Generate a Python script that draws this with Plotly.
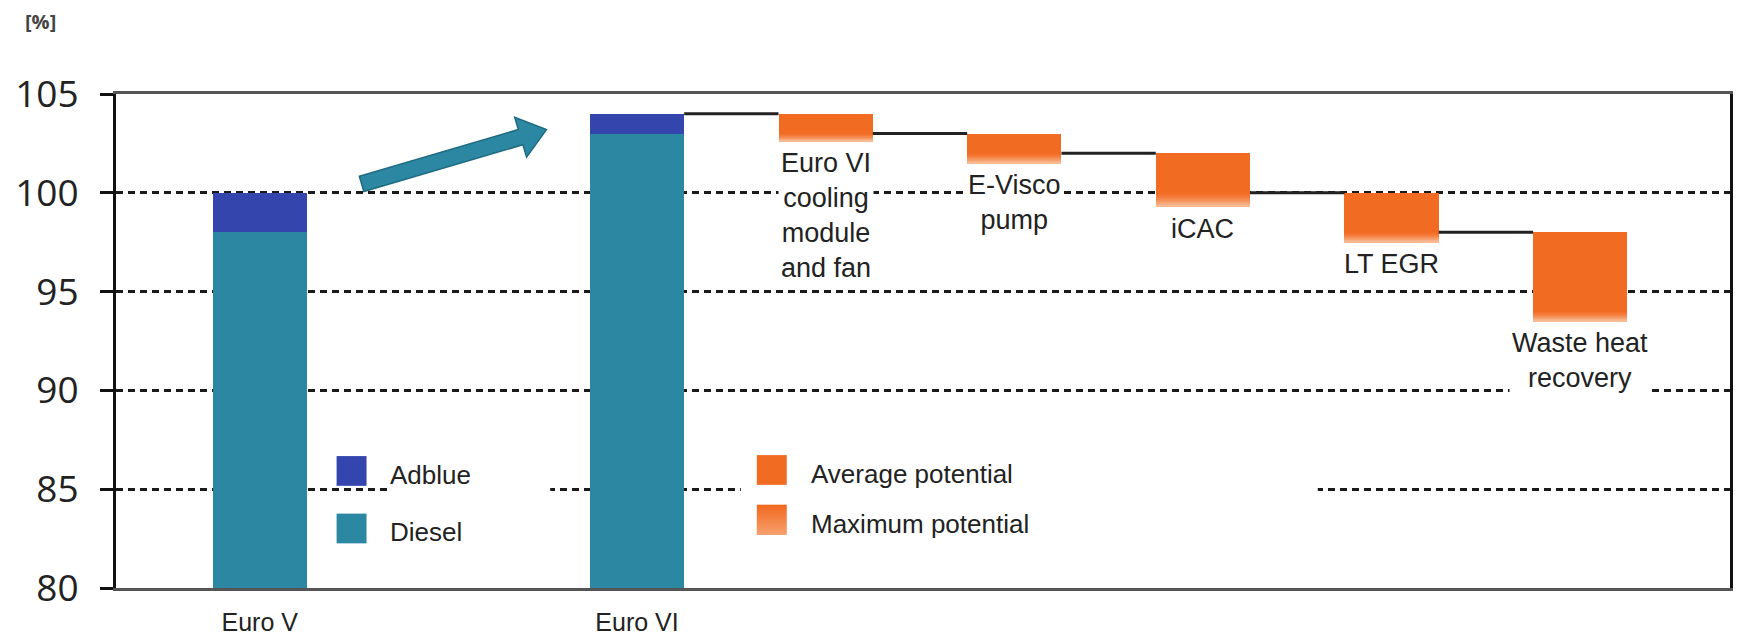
import plotly.graph_objects as go

# ---- data -------------------------------------------------------------
stages = ["Euro V", "Euro VI"]
stage_pos = [0, 2]
diesel = [98, 103]
adblue = [2, 1]

measures = ["Euro VI<br>cooling<br>module<br>and fan", "E-Visco<br>pump", "iCAC",
            "LT EGR", "Waste heat<br>recovery"]
measure_pos = [3, 4, 5, 6, 7]
avg_potential = [1.0, 1.0, 2.0, 2.0, 4.0]
max_potential = [1.4, 1.5, 2.7, 2.5, 4.5]

y_ticks = [80, 85, 90, 95, 100, 105]

# ---- styling / layout constants --------------------------------------
W, H = 1739, 642
ML, MR, MT, MB = 116, 6, 94, 50
X_RANGE = [-0.762, 7.794]
Y_RANGE = [80, 105]
BAR_W = 0.5

TEAL = "#2C88A2"
BLUE = "#3446AE"
ORANGE = "#F26B22"
ORANGE_LIGHT = "#F9BE98"
TEXT = "#222222"
NARROW = "Liberation Sans Narrow, Arial Narrow, Liberation Sans, Arial, sans-serif"

PW = W - ML - MR
PH = H - MT - MB


def px_to_x(px):
    return X_RANGE[0] + (px - ML) / PW * (X_RANGE[1] - X_RANGE[0])


def py_to_y(py):
    return Y_RANGE[1] - (py - MT) / PH * (Y_RANGE[1] - Y_RANGE[0])


def x_to_px(x):
    return ML + (x - X_RANGE[0]) / (X_RANGE[1] - X_RANGE[0]) * PW


def y_to_py(y):
    return MT + (Y_RANGE[1] - y) / (Y_RANGE[1] - Y_RANGE[0]) * PH


def blend(c1, c2, t):
    a = [int(c1[i:i + 2], 16) for i in (1, 3, 5)]
    b = [int(c2[i:i + 2], 16) for i in (1, 3, 5)]
    return "#" + "".join(f"{round(a[k] + (b[k] - a[k]) * t):02x}" for k in range(3))


fig = go.Figure()

# fuel consumption stacks
fig.add_trace(go.Bar(x=stage_pos, y=diesel, base=[0] * len(diesel), width=BAR_W,
                     marker=dict(color=TEAL, line=dict(width=0)), name="Diesel",
                     showlegend=False))
fig.add_trace(go.Bar(x=stage_pos, y=adblue, base=diesel, width=BAR_W,
                     marker=dict(color=BLUE, line=dict(width=0)), name="Adblue",
                     showlegend=False))

# waterfall of improvement measures
start_level = diesel[-1] + adblue[-1]
tops = []
level = start_level
for a in avg_potential:
    tops.append(level)
    level -= a

fig.add_trace(go.Bar(x=measure_pos, y=avg_potential,
                     base=[t - a for t, a in zip(tops, avg_potential)], width=BAR_W,
                     marker=dict(color=ORANGE, line=dict(width=0)),
                     name="Average potential", showlegend=False))

# maximum potential drawn as a fading band below the average part
N_FADE = 14
extra = [m - a for m, a in zip(max_potential, avg_potential)]
for k in range(N_FADE):
    fig.add_trace(go.Bar(
        x=measure_pos,
        y=[e / N_FADE * 1.02 for e in extra],
        base=[t - a - e * (k + 1) / N_FADE for t, a, e in zip(tops, avg_potential, extra)],
        width=BAR_W,
        marker=dict(color=blend(ORANGE, ORANGE_LIGHT, ((k + 0.5) / N_FADE) ** 1.5),
                    line=dict(width=0)),
        name="Maximum potential", showlegend=False, hoverinfo="skip"))

# connector lines between consecutive levels
cx, cy = [], []
prev_pos = [stage_pos[-1]] + measure_pos[:-1]
for p0, p1, t in zip(prev_pos, measure_pos, tops):
    cx += [p0 + BAR_W / 2, p1 - BAR_W / 2, None]
    cy += [t, t, None]
fig.add_trace(go.Scatter(x=cx, y=cy, mode="lines", line=dict(color="#222222", width=3),
                         showlegend=False, hoverinfo="skip"))

shapes = []
annotations = []

# measure labels under each bar
for name, p, t, m in zip(measures, measure_pos, tops, max_potential):
    annotations.append(dict(x=p, y=t - m, xref="x", yref="y", text=name, showarrow=False,
                            xanchor="center", yanchor="top", yshift=-4, align="center",
                            font=dict(family=NARROW, size=27, color=TEXT),
                            bgcolor="white", borderpad=2))

# trend arrow from Euro V to Euro VI
tail = (x_to_px(0.54), y_to_py(100.45))
tip = (x_to_px(1.52), y_to_py(103.2))
dx, dy = tip[0] - tail[0], tip[1] - tail[1]
ln = (dx * dx + dy * dy) ** 0.5
ux, uy = dx / ln, dy / ln
nx, ny = -uy, ux
hw, hh, hl = 8, 21, 27
bx, by = tip[0] - ux * hl, tip[1] - uy * hl
pts = [
    (tail[0] + nx * hw, tail[1] + ny * hw),
    (bx + nx * hw, by + ny * hw),
    (bx + nx * hh, by + ny * hh),
    tip,
    (bx - nx * hh, by - ny * hh),
    (bx - nx * hw, by - ny * hw),
    (tail[0] - nx * hw, tail[1] - ny * hw),
]
path = "M " + " L ".join(f"{px_to_x(a):.5f},{py_to_y(b):.5f}" for a, b in pts) + " Z"
shapes.append(dict(type="path", path=path, xref="x", yref="y", fillcolor=TEAL,
                   line=dict(color="#1E6A80", width=1.5), layer="above"))

# legends (white panels interrupt the grid lines)
shapes.append(dict(type="rect", xref="x", yref="y", layer="above",
                   x0=px_to_x(388), x1=px_to_x(551), y0=py_to_y(455), y1=py_to_y(552),
                   fillcolor="white", line=dict(width=0)))
shapes.append(dict(type="rect", xref="x", yref="y", layer="above",
                   x0=px_to_x(742), x1=px_to_x(1320), y0=py_to_y(455), y1=py_to_y(552),
                   fillcolor="white", line=dict(width=0)))


def legend_item(px0, py_c, color, label, fade=False):
    size = 30
    y_top, y_bot = py_c - size / 2, py_c + size / 2
    if fade:
        steps = 10
        for k in range(steps):
            shapes.append(dict(type="rect", xref="x", yref="y", layer="above",
                               x0=px_to_x(px0), x1=px_to_x(px0 + size),
                               y0=py_to_y(y_top + size * k / steps),
                               y1=py_to_y(y_top + size * (k + 1) / steps + 0.5),
                               fillcolor=blend(color, ORANGE_LIGHT, (k / (steps - 1)) * 0.6),
                               line=dict(width=0)))
    else:
        shapes.append(dict(type="rect", xref="x", yref="y", layer="above",
                           x0=px_to_x(px0), x1=px_to_x(px0 + size),
                           y0=py_to_y(y_top), y1=py_to_y(y_bot),
                           fillcolor=color, line=dict(width=0)))
    annotations.append(dict(x=px_to_x(px0 + size + 22), y=py_to_y(py_c + 4), xref="x", yref="y",
                            text=label, showarrow=False, xanchor="left", yanchor="middle",
                            font=dict(family=NARROW, size=26, color=TEXT)))


legend_item(337, 474, BLUE, "Adblue")
legend_item(337, 532, TEAL, "Diesel")
legend_item(758, 473, ORANGE, "Average potential")
legend_item(758, 523, ORANGE, "Maximum potential", fade=True)

# unit label above the value axis
annotations.append(dict(x=(40 - ML) / PW, y=(H - MB - 21) / PH, xref="paper", yref="paper",
                        text="<b>[%]</b>", showarrow=False, xanchor="center", yanchor="middle",
                        font=dict(family="Open Sans, sans-serif", size=20, color="#444444")))

fig.update_layout(
    width=W, height=H,
    margin=dict(l=ML, r=MR, t=MT, b=MB, pad=0),
    paper_bgcolor="white", plot_bgcolor="white",
    barmode="overlay", bargap=0,
    showlegend=False,
    shapes=shapes, annotations=annotations,
    xaxis=dict(range=X_RANGE, tickvals=stage_pos, ticktext=stages, showgrid=False,
               zeroline=False, showline=True, linecolor="#555555", linewidth=3, mirror=True,
               ticks="", ticklabelstandoff=10,
               tickfont=dict(family=NARROW, size=25, color=TEXT)),
    yaxis=dict(range=Y_RANGE, tickvals=y_ticks, showgrid=True, gridcolor="#1a1a1a",
               gridwidth=2.5, griddash="7px,5px", zeroline=False, showline=True,
               linecolor="#111111", linewidth=3, mirror=True, ticks="outside",
               ticklen=13, tickwidth=2.5, tickcolor="#111111", ticklabelstandoff=14,
               tickfont=dict(family="Open Sans, sans-serif", size=37, color=TEXT)),
)

fig.write_html("out.html")
